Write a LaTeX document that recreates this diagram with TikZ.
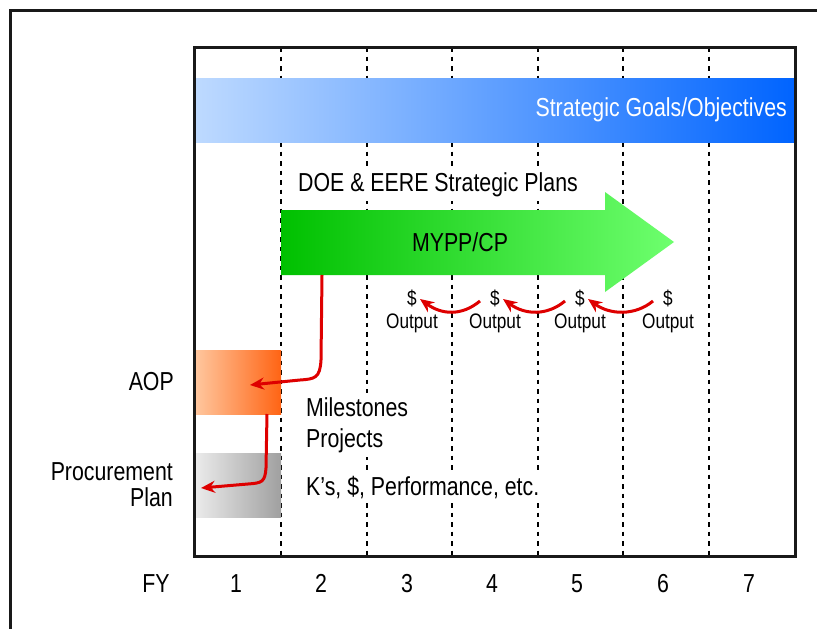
\documentclass[tikz,border=0pt]{standalone}
\usepackage{fontspec}
\setmainfont{Liberation Sans}[FakeStretch=0.82]
\usetikzlibrary{arrows.meta}
\definecolor{goalL}{RGB}{190,218,255}
\definecolor{goalR}{RGB}{0,100,255}
\definecolor{myppL}{RGB}{0,192,0}
\definecolor{myppR}{RGB}{110,255,110}
\definecolor{aopL}{RGB}{255,200,160}
\definecolor{aopR}{RGB}{255,100,20}
\definecolor{procL}{RGB}{236,236,236}
\definecolor{procR}{RGB}{160,160,160}
\definecolor{flow}{RGB}{222,0,0}
\begin{document}
\begin{tikzpicture}[x=1pt,y=-1pt,
  every node/.style={inner sep=0pt, font=\fontsize{26}{30}\selectfont},
  smalltext/.style={font=\fontsize{21}{23}\selectfont, align=center},
  notebox/.style={fill=white, inner xsep=6pt, inner ysep=4pt, anchor=west, align=left},
  yeardash/.style={line width=1.8pt, dash pattern=on 4.5pt off 5pt},
  outerframe/.style={line width=3pt, draw=black!90},
  flowarrow/.style={draw=flow, line width=3pt, -{Stealth[length=14pt,width=12pt]}},
  bandbox/.style={shade, minimum width=87pt, minimum height=64pt},
  yearlabel/.style={anchor=base}
]
\useasboundingbox (0,0) rectangle (817,629);
\fill[white] (0,0) rectangle (817,629);

% outer frame
\draw[outerframe] (10,10) rectangle (840,650);

% fiscal-year separators
\foreach \x in {281,367,452,538,623,709}
  \draw[yeardash] (\x,47) -- (\x,556);

% strategic goals band
\node[shade, left color=goalL, right color=goalR, minimum width=601pt, minimum height=64pt]
  (goals) at (494.5,110) {};
\node[anchor=east, text=white] (goalstext) at (787,110) {Strategic Goals/Objectives};

% strategic plans
\node[notebox] (plans) at (292,185) {DOE \& EERE Strategic Plans};

% MYPP/CP arrow
\shade[left color=myppL, right color=myppR]
  (281,210) -- (605,210) -- (605,192) -- (674,242) -- (605,292) -- (605,275) -- (281,275) -- cycle;
\node (mypp) at (460,242) {MYPP/CP};
\coordinate (myppfoot) at (322,275);

% AOP and procurement plan bands
\node[bandbox, left color=aopL, right color=aopR] (aop) at (237.5,382) {};
\node[bandbox, left color=procL, right color=procR] (proc) at (237.5,485) {};
\node[anchor=east] (aoptext) at (174,382) {AOP};
\node[anchor=east, align=right, font=\fontsize{26}{26}\selectfont] (proctext) at (173,485) {Procurement\\Plan};

% inner frame
\draw[outerframe] (194,47) rectangle (795,556);

% notes
\node[notebox, font=\fontsize{26}{31}\selectfont] (mile) at (300,425) {Milestones\\Projects};
\node[notebox] (kdollar) at (300,488) {K’s, \$, Performance, etc.};

% dollar outputs
\node[smalltext] (out1) at (412,311) {\$\\Output};
\node[smalltext] (out2) at (495,311) {\$\\Output};
\node[smalltext] (out3) at (580,311) {\$\\Output};
\node[smalltext] (out4) at (668,311) {\$\\Output};

% output flow arrows
\foreach \a/\b in {out2/out1, out3/out2, out4/out3}{
  \draw[flowarrow] ([shift={(-15,-10)}]\a.center) .. controls +(-18,15) and +(22,16) .. ([shift={(8,-12)}]\b.center);
}

% flow from MYPP/CP down to the plans
\coordinate (aopin) at (250,385);
\coordinate (aopfoot) at (267,414);
\coordinate (procin) at (201,488);
\draw[flowarrow] (myppfoot) -- (321,360) .. controls (320,378) and (315,379) .. (300,380) -- (aopin);
\draw[flowarrow] (aopfoot) -- (266,468) .. controls (265,482) and (262,483) .. (248,484) -- (procin);

% fiscal-year axis
\node[yearlabel] (fy) at (156,592) {FY};
\node[yearlabel] (fy1) at (236,592) {1};
\node[yearlabel] (fy2) at (321,592) {2};
\node[yearlabel] (fy3) at (407,592) {3};
\node[yearlabel] (fy4) at (492,592) {4};
\node[yearlabel] (fy5) at (577,592) {5};
\node[yearlabel] (fy6) at (663,592) {6};
\node[yearlabel] (fy7) at (749,592) {7};
\end{tikzpicture}
\end{document}
